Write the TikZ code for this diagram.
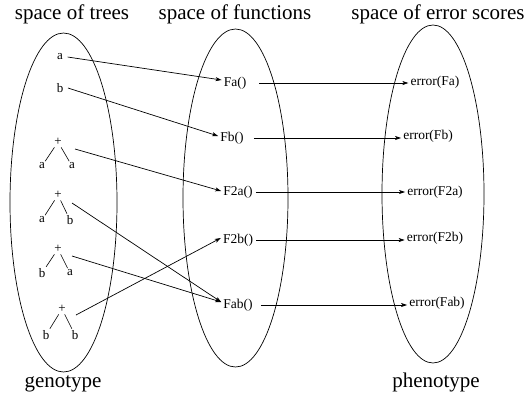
\documentclass[tikz,border=0pt]{standalone}
\usepackage{fontspec}
\setmainfont{Liberation Serif}
\usetikzlibrary{arrows.meta}
\begin{document}
\begin{tikzpicture}[x=1bp,y=-1bp,
  title/.style={font=\fontsize{21bp}{25bp}\selectfont, anchor=base, inner sep=0pt},
  lbl/.style={font=\fontsize{13.5bp}{16bp}\selectfont, inner sep=2bp},
  leaf/.style={font=\fontsize{13bp}{15bp}\selectfont, inner sep=1.5bp},
  space/.style={draw, line width=0.7bp},
  conn/.style={line width=0.7bp, -{Stealth[length=6bp,width=4bp,inset=1.5bp]}},
  edge/.style={line width=0.6bp}]
\useasboundingbox (0,0) rectangle (529,398);
% spaces
\draw[space] (63.5,202.5) ellipse [x radius=53.5, y radius=169.5];
\draw[space] (235.5,198) ellipse [x radius=52.5, y radius=169];
\draw[space] (433,194) ellipse [x radius=51, y radius=169];
% titles
\node[title] (t1) at (72,19) {space of trees};
\node[title] (t2) at (235,19) {space of functions};
\node[title] (t3) at (438,19) {space of error scores};
\node[title] (g) at (63,387) {genotype};
\node[title] (p) at (436,387) {phenotype};
% genotype nodes
\node[leaf] (a) at (60,57) {a};
\node[leaf] (b) at (60,88) {b};
\node[leaf] (p1) at (58,142) {+};
\node[leaf] (p1l) at (42,166) {a};
\node[leaf] (p1r) at (72,166) {a};
\node[leaf] (p2) at (58,195) {+};
\node[leaf] (p2l) at (42,220) {a};
\node[leaf] (p2r) at (70,220) {b};
\node[leaf] (p3) at (58,249) {+};
\node[leaf] (p3l) at (42,273) {b};
\node[leaf] (p3r) at (70,273) {a};
\node[leaf] (p4) at (62,309) {+};
\node[leaf] (p4l) at (46,335) {b};
\node[leaf] (p4r) at (75,335) {b};
\draw[edge] (p1) -- (p1l); \draw[edge] (p1) -- (p1r);
\draw[edge] (p2) -- (p2l); \draw[edge] (p2) -- (p2r);
\draw[edge] (p3) -- (p3l); \draw[edge] (p3) -- (p3r);
\draw[edge] (p4) -- (p4l); \draw[edge] (p4) -- (p4r);
\coordinate (c1) at (75,149);
\coordinate (c2) at (72,203);
\coordinate (c3) at (72,256);
\coordinate (c4) at (76,315);
% function nodes
\node[lbl] (Fa) at (235,83) {Fa()};
\node[lbl] (Fb) at (232,138) {Fb()};
\node[lbl] (F2a) at (238,192) {F2a()};
\node[lbl] (F2b) at (238,240) {F2b()};
\node[lbl] (Fab) at (238,305) {Fab()};
% error nodes
\node[lbl] (eFa) at (435,82) {error(Fa)};
\node[lbl] (eFb) at (428,136) {error(Fb)};
\node[lbl] (eF2a) at (435,192) {error(F2a)};
\node[lbl] (eF2b) at (435,238) {error(F2b)};
\node[lbl] (eFab) at (437,303) {error(Fab)};
% genotype -> function
\draw[conn] ([xshift=3bp]a.east) -- ([yshift=3bp]Fa.west);
\draw[conn] ([xshift=3bp]b.east) -- ([yshift=2bp]Fb.west);
\draw[conn] (c1) -- ([yshift=1bp]F2a.west);
\draw[conn] (c2) -- ([yshift=3bp]Fab.west);
\draw[conn] (c3) -- ([yshift=3bp]Fab.west);
\draw[conn] (c4) -- ([yshift=2bp]F2b.west);
% function -> error
\draw[conn] ([xshift=11bp]Fa.east) -- (Fa.east -| eFa.west);
\draw[conn] ([xshift=8bp]Fb.east) -- (Fb.east -| eFb.west);
\draw[conn] ([xshift=1bp]F2a.east) -- (F2a.east -| eF2a.west);
\draw[conn] ([xshift=1bp]F2b.east) -- (F2b.east -| eF2b.west);
\draw[conn] ([xshift=6bp]Fab.east) -- (Fab.east -| eFab.west);
\end{tikzpicture}
\end{document}
